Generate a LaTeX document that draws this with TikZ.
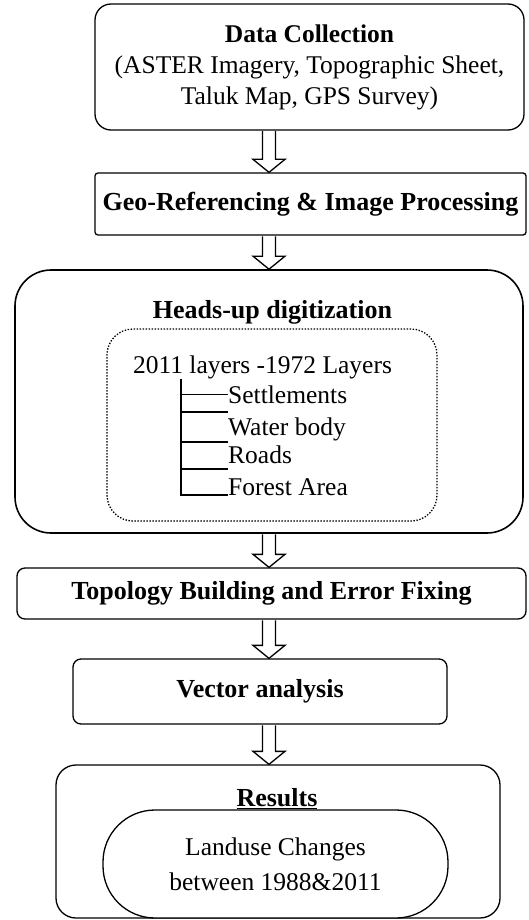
\documentclass[tikz,border=0pt]{standalone}
\usepackage{fontspec}
\setmainfont{Liberation Serif}
\usetikzlibrary{calc}
\tikzset{
  box/.style={
    draw=black,
    fill=white,
    line width=1.3pt,
    inner sep=0pt,
    align=center,
    font=\fontsize{25.5}{31}\selectfont
  },
  box-bold/.style={font=\fontsize{26}{31}\selectfont\bfseries},
  box-square/.style={box, rounded corners=3pt},
  box-small/.style={box, rounded corners=8pt},
  box-mid/.style={box, rounded corners=16pt},
  box-big/.style={box, rounded corners=36pt, line width=1.6pt},
  box-dots/.style={draw=black, line width=1.3pt, dash pattern=on 1.4pt off 1.6pt, rounded corners=26pt},
  box-pill/.style={box, rounded corners=52pt, font=\fontsize{25.5}{35}\selectfont},
  txt/.style={inner sep=0pt, font=\fontsize{25.5}{31}\selectfont},
  txt-bold/.style={txt, font=\fontsize{26}{31}\selectfont\bfseries},
  tree/.style={line width=1.3pt},
  flow/.style={draw=black, fill=white, line width=1.3pt}
}
\newcommand{\flowarrow}[2]{
  \path (ax |- #1.south) coordinate (fa-top)
        (ax |- #2.north) coordinate (fa-tip);
  \filldraw[flow]
    ($(fa-top)+(-6.5,0.6)$) -- ($(fa-tip)+(-6.5,-13)$) -- ($(fa-tip)+(-16,-13)$)
    -- (fa-tip) -- ($(fa-tip)+(16,-13)$) -- ($(fa-tip)+(6.5,-13)$) -- ($(fa-top)+(6.5,0.6)$);
}

\begin{document}
\begin{tikzpicture}[x=1pt, y=-1pt]
  \fill[white] (0,0) rectangle (528,920);
  \useasboundingbox (0,0) rectangle (528,920);
  \coordinate (ax) at (269,0);

  % Data collection
  \node[box-mid, minimum width=429pt, minimum height=126pt] (collect) at (309.5,67)
    {\textbf{Data Collection}\\(ASTER Imagery, Topographic Sheet,\\Taluk Map, GPS Survey)};
  % Geo-referencing
  \node[box-square, box-bold, minimum width=431pt, minimum height=62pt] (georef) at (310.5,204)
    {Geo-Referencing \& Image Processing};

  % Heads-up digitization
  \node[box-big, minimum width=508pt, minimum height=263pt] (heads) at (269,401.5) {};
  \node[txt-bold, anchor=base] (heads-title) at (272.5,318) {Heads-up digitization};
  \node[box-dots, minimum width=330pt, minimum height=192pt] (layer-box) at (272,425) {};
  \node[txt, anchor=base] (layers) at (262.5,373) {2011 layers -1972 Layers};
  \coordinate (trunk) at (181,0);
  \node[txt, anchor=base west] (settle) at (228,403) {Settlements};
  \node[txt, anchor=base west] (water) at (228,435) {Water body};
  \node[txt, anchor=base west] (roads) at (228,463) {Roads};
  \node[txt, anchor=base west] (forest) at (228,495) {Forest Area};
  \draw[tree] (trunk |- layers.south) -- (trunk |- forest.base west) -- (forest.base west);
  \draw[tree] (trunk |- settle.west) -- (settle.west);
  \draw[tree] ([yshift=5pt]trunk |- water.north west) -- ([yshift=5pt]water.north west);
  \draw[tree] ([yshift=3pt]trunk |- roads.north west) -- ([yshift=3pt]roads.north west);
  \draw[tree] ([yshift=9pt]trunk |- forest.north west) -- ([yshift=9pt]forest.north west);

  % Topology and vector analysis
  \node[box-small, box-bold, minimum width=509pt, minimum height=51pt] (topo) at (271.5,593.5)
    {Topology Building and Error Fixing};
  \node[box-small, box-bold, minimum width=374pt, minimum height=65pt] (vector) at (260,691.5)
    {Vector analysis};

  % Results
  \node[box, rounded corners=20pt, minimum width=444pt, minimum height=153pt] (results) at (278,841.5) {};
  \node[txt-bold, anchor=base] (results-title) at (277,806) {\underline{Results}};
  \node[box-pill, minimum width=345pt, minimum height=108pt] (changes) at (275.5,864)
    {Landuse Changes\\between 1988\&2011};

  % Block arrows
  \flowarrow{collect}{georef}
  \flowarrow{georef}{heads}
  \flowarrow{heads}{topo}
  \flowarrow{topo}{vector}
  \flowarrow{vector}{results}
\end{tikzpicture}
\end{document}
